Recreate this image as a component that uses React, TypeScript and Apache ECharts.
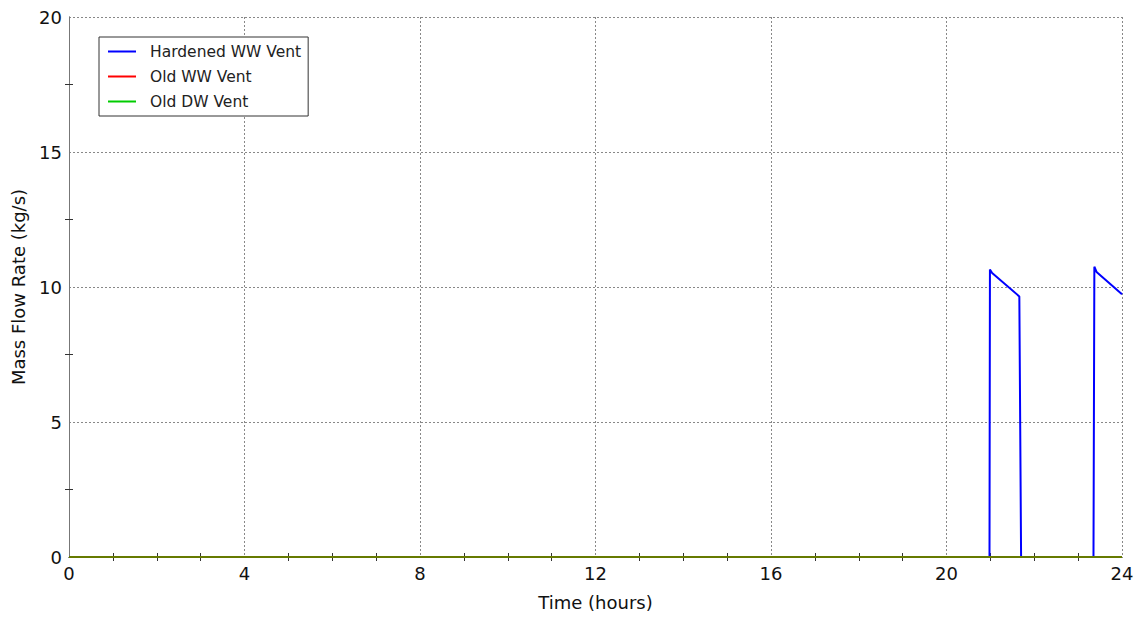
import React, { useEffect, useRef } from "react";
import * as echarts from "echarts";

const hardenedTime = [0, 20.98, 20.99, 21.04, 21.66, 21.7, 23.35, 23.37, 23.42, 24];
const hardenedFlow = [0, 0, 10.65, 10.52, 9.65, 0, 0, 10.75, 10.56, 9.73];
const oldWWTime = [0, 24];
const oldWWFlow = [0, 0];
const oldDWTime = [0, 24];
const oldDWFlow = [0, 0];
const seriesNames = ["Hardened WW Vent", "Old WW Vent", "Old DW Vent"];
const xTicks = { min: 0, max: 24, interval: 4 };
const yTicks = { min: 0, max: 20, interval: 5 };

const FONT = "DejaVu Sans";

function pairs(t: number[], v: number[]) {
  return t.map((x, i) => [x, v[i]]);
}

export default function App() {
  const ref = useRef<HTMLDivElement>(null);
  useEffect(() => {
    if (!ref.current) return;
    const chart = echarts.init(ref.current, null, { renderer: "svg" });
    const axisLineColor = "#777";
    const splitLine = {
      show: true,
      lineStyle: { color: "#888", type: [2, 2] as any, width: 1 },
    };
    const hiddenTick = { show: true, inside: true, length: 4, lineStyle: { opacity: 0 } };
    const minor = (n: number) => ({
      show: true,
      splitNumber: n,
      length: 4,
      lineStyle: { color: "#333", width: 1, opacity: 1 },
    });
    chart.setOption({
      animation: false,
      backgroundColor: "#fff",
      grid: { left: 69, right: 18, top: 17, bottom: 60, containLabel: false },
      legend: {
        left: 99,
        top: 37,
        orient: "vertical",
        data: seriesNames,
        icon: "rect",
        itemWidth: 28,
        itemHeight: 2,
        itemGap: 8,
        borderColor: "#333",
        borderWidth: 1,
        padding: [6, 7, 6, 9],
        backgroundColor: "#fff",
        textStyle: {
          fontFamily: FONT,
          fontSize: 15.5,
          color: "#222",
          lineHeight: 17,
          padding: [0, 0, 0, 9],
        },
      },
      xAxis: [
        {
          type: "value",
          min: xTicks.min,
          max: xTicks.max,
          interval: xTicks.interval,
          name: "Time (hours)",
          nameLocation: "middle",
          nameGap: 36,
          nameTextStyle: { fontFamily: FONT, fontSize: 18, color: "#111" },
          axisLine: { show: true, lineStyle: { color: axisLineColor, width: 1 } },
          axisTick: hiddenTick,
          minorTick: minor(4),
          axisLabel: { fontFamily: FONT, fontSize: 18, color: "#111", margin: 7 },
          splitLine,
        },
        {
          type: "value",
          position: "top",
          min: xTicks.min,
          max: xTicks.max,
          interval: xTicks.interval,
          axisLine: { show: true, lineStyle: { color: "#222", width: 1 } },
          axisTick: hiddenTick,
          minorTick: minor(4),
          axisLabel: { show: false },
          splitLine: { show: false },
        },
      ],
      yAxis: [
        {
          type: "value",
          min: yTicks.min,
          max: yTicks.max,
          interval: yTicks.interval,
          name: "Mass Flow Rate (kg/s)",
          nameLocation: "middle",
          nameGap: 42,
          nameTextStyle: { fontFamily: FONT, fontSize: 18, color: "#111" },
          axisLine: { show: true, lineStyle: { color: axisLineColor, width: 1 } },
          axisTick: hiddenTick,
          minorTick: minor(2),
          axisLabel: { fontFamily: FONT, fontSize: 18, color: "#111", margin: 7 },
          splitLine,
        },
        {
          type: "value",
          position: "right",
          min: yTicks.min,
          max: yTicks.max,
          interval: yTicks.interval,
          axisLine: { show: true, lineStyle: { color: axisLineColor, width: 1 } },
          axisTick: hiddenTick,
          minorTick: minor(2),
          axisLabel: { show: false },
          splitLine: { show: false },
        },
      ],
      series: [
        {
          name: seriesNames[0],
          type: "line",
          data: pairs(hardenedTime, hardenedFlow),
          showSymbol: false,
          symbol: "none",
          clip: false,
          lineStyle: { color: "#0000ff", width: 2 },
          itemStyle: { color: "#0000ff" },
        },
        {
          name: seriesNames[1],
          type: "line",
          data: pairs(oldWWTime, oldWWFlow),
          showSymbol: false,
          symbol: "none",
          clip: false,
          lineStyle: { color: "#ff0000", width: 2 },
          itemStyle: { color: "#ff0000" },
        },
        {
          name: seriesNames[2],
          type: "line",
          data: pairs(oldDWTime, oldDWFlow),
          showSymbol: false,
          symbol: "none",
          clip: false,
          lineStyle: { color: "#00cc00", width: 2, opacity: 0.6 },
          itemStyle: { color: "#00cc00" },
        },
      ],
    });
    return () => chart.dispose();
  }, []);
  return <div ref={ref} style={{ width: 1140, height: 617, position: "absolute", left: 0, top: 0 }} />;
}
